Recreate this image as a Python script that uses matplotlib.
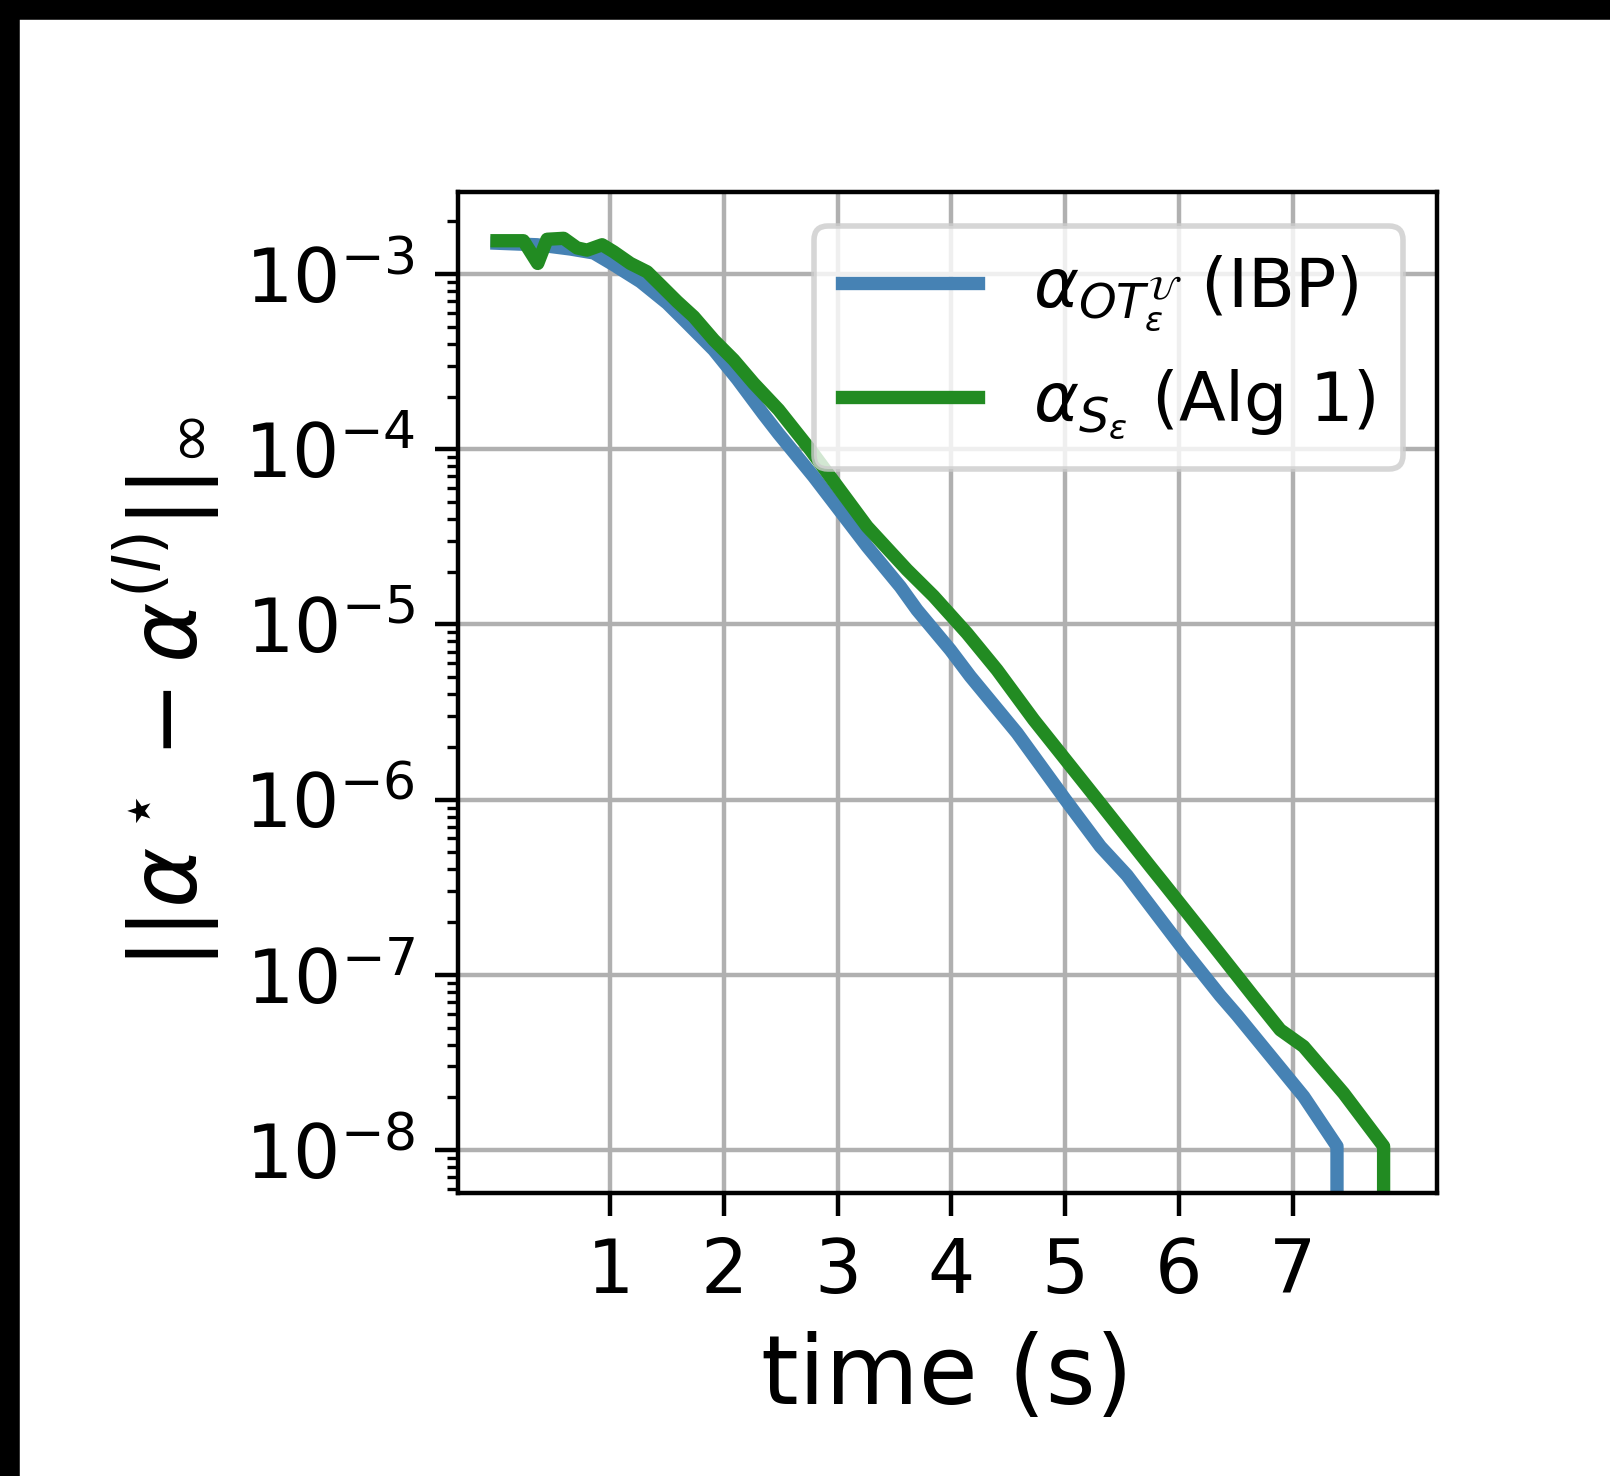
import matplotlib
matplotlib.use("Agg")
import matplotlib.pyplot as plt
from matplotlib.patches import Rectangle

# IBP (blue) convergence, time in seconds
ibp_time = [0.003, 0.355, 0.648, 0.853, 1.029, 1.264, 1.499, 1.675, 1.909, 2.117,
            2.348, 2.478, 2.788, 3.258, 3.551, 3.697, 3.990, 4.166, 4.577, 5.002,
            5.310, 5.544, 6.042, 6.365, 6.512, 7.098, 7.391, 7.391]
ibp_err = [1.50e-3, 1.47e-3, 1.39e-3, 1.32e-3, 1.13e-3, 9.06e-4, 6.82e-4, 5.25e-4, 3.69e-4, 2.51e-4,
           1.58e-4, 1.23e-4, 6.98e-5, 2.79e-5, 1.64e-5, 1.21e-5, 7.16e-6, 5.05e-6, 2.40e-6, 1.0e-6,
           5.40e-7, 3.70e-7, 1.39e-7, 7.59e-8, 5.89e-8, 2.02e-8, 1.05e-8, 1e-12]

# Alg 1 (green)
alg_time = [0.003, 0.235, 0.361, 0.443, 0.589, 0.707, 0.795, 0.927, 1.029, 1.176,
            1.323, 1.440, 1.587, 1.733, 1.909, 2.084, 2.26, 2.48, 2.759, 3.258,
            3.609, 3.697, 3.843, 4.137, 4.401, 4.723, 5.283, 5.749, 5.864, 6.336,
            6.658, 6.892, 7.097, 7.449, 7.801, 7.801]
alg_err = [1.55e-3, 1.55e-3, 1.15e-3, 1.58e-3, 1.60e-3, 1.41e-3, 1.37e-3, 1.47e-3, 1.34e-3, 1.15e-3,
           1.03e-3, 8.67e-4, 6.97e-4, 5.71e-4, 4.21e-4, 3.24e-4, 2.38e-4, 1.68e-4, 9.93e-5, 3.62e-5,
           2.05e-5, 1.80e-5, 1.45e-5, 8.9e-6, 5.5e-6, 2.86e-6, 1.0e-6, 4.15e-7, 3.35e-7, 1.38e-7,
           7.5e-8, 4.85e-8, 3.90e-8, 2.11e-8, 1.05e-8, 1e-12]

xticks = [1, 2, 3, 4, 5, 6, 7]

fig = plt.figure(figsize=(4.025, 3.69), dpi=400)
ax = fig.add_axes([0.2845, 0.1918, 0.608, 0.6781])

ax.plot(ibp_time, ibp_err, color="steelblue", lw=2.4,
        label=r"$\alpha_{OT^{\mathcal{U}}_\varepsilon}$ (IBP)")
ax.plot(alg_time, alg_err, color="forestgreen", lw=2.4,
        label=r"$\alpha_{S_\varepsilon}$ (Alg 1)")

ax.set_yscale("log")
ax.set_xlim(-0.34, 8.27)
ax.set_ylim(5.69e-9, 2.94e-3)
ax.set_xticks(xticks)
ax.tick_params(labelsize=13.4, length=4.2)
ax.grid(True, which="major")

ax.set_xlabel("time (s)", fontsize=17.28)
ax.set_ylabel(r"$||\alpha^\star - \alpha^{(l)}||_\infty$", fontsize=16.5)

ax.legend(loc="upper right", fontsize=12.3)

# black strips along top and left edge
fig.add_artist(Rectangle((0, 1 - 17 / 1476), 1, 17 / 1476, color="black",
                         transform=fig.transFigure))
fig.add_artist(Rectangle((0, 0), 17 / 1610, 1, color="black",
                         transform=fig.transFigure))

fig.savefig("out.png", dpi=400)
